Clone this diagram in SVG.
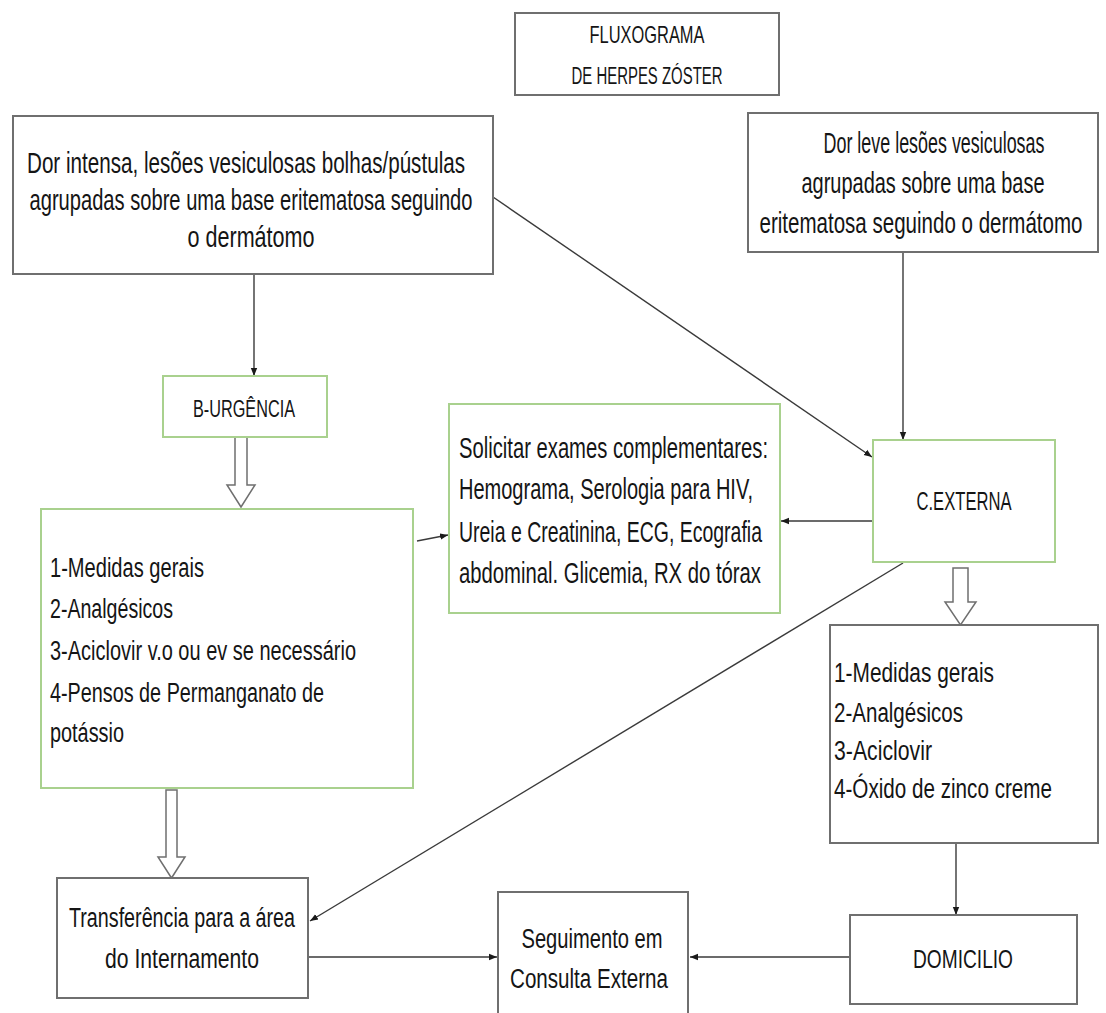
<svg xmlns="http://www.w3.org/2000/svg" width="1106" height="1013" viewBox="0 0 1106 1013">
<defs>
<style>
.box{fill:#fff;stroke:#6f6f6f;stroke-width:2}
.gbox{fill:#fff;stroke:#a9d18e;stroke-width:2}
.t{font-family:"Liberation Sans",Arial,sans-serif;fill:#151515}
.c{text-anchor:middle}
.b{font-size:20.5px}
.ln{fill:none;stroke:#3a3a3a;stroke-width:1.4;marker-end:url(#ah)}
.blk{fill:#fff;stroke:#6f6f6f;stroke-width:1.5}
</style>
<marker id="ah" viewBox="0 0 10 10" refX="10" refY="5" markerWidth="8" markerHeight="8" markerUnits="userSpaceOnUse" orient="auto">
<path d="M0,1 L10,5 L0,9 Z" fill="#1a1a1a"/>
</marker>
</defs>
<rect width="1106" height="1013" fill="#fff"/>

<g id="connectors">
<line class="ln" x1="254" y1="274" x2="254" y2="376"/>
<line class="ln" x1="493" y1="197" x2="872" y2="457"/>
<line class="ln" x1="903" y1="252" x2="903" y2="440"/>
<line class="ln" x1="873" y1="521" x2="781" y2="521"/>
<line class="ln" x1="417" y1="541" x2="448" y2="535"/>
<line class="ln" x1="903" y1="563" x2="310" y2="921"/>
<line class="ln" x1="308" y1="957" x2="497" y2="957"/>
<line class="ln" x1="956" y1="843" x2="956" y2="915"/>
<line class="ln" x1="850" y1="957" x2="690" y2="957"/>
<polygon class="blk" points="235,437 247,437 247,485 255,485 241,507 227,485 235,485"/>
<polygon class="blk" points="166,790 177,790 177,857 185,857 171.5,878 158,857 166,857"/>
<polygon class="blk" points="953,568 968,568 968,602 976,602 960.5,625 945,602 953,602"/>
</g>

<g id="title">
<rect class="box" x="515" y="13" width="264" height="82"/>
<text class="t c" transform="translate(647,43) scale(1,1.4)" font-size="16.5" textLength="115" lengthAdjust="spacingAndGlyphs">FLUXOGRAMA</text>
<text class="t c" transform="translate(647,84) scale(1,1.4)" font-size="16.5" textLength="151" lengthAdjust="spacingAndGlyphs">DE HERPES ZÓSTER</text>
</g>

<g id="dor-intensa">
<rect class="box" x="13" y="116" width="480" height="158"/>
<text class="t c b" transform="translate(246,173) scale(1,1.46)" textLength="438" lengthAdjust="spacingAndGlyphs">Dor intensa, lesões vesiculosas bolhas/pústulas</text>
<text class="t c b" transform="translate(251,210) scale(1,1.46)" textLength="443" lengthAdjust="spacingAndGlyphs">agrupadas sobre uma base eritematosa seguindo</text>
<text class="t c b" transform="translate(251,247) scale(1,1.46)" textLength="127" lengthAdjust="spacingAndGlyphs">o dermátomo</text>
</g>

<g id="dor-leve">
<rect class="box" x="748" y="113" width="350" height="139"/>
<text class="t c b" transform="translate(934,153) scale(1,1.46)" textLength="221" lengthAdjust="spacingAndGlyphs">Dor leve lesões vesiculosas</text>
<text class="t c b" transform="translate(923,193) scale(1,1.46)" textLength="243" lengthAdjust="spacingAndGlyphs">agrupadas sobre uma base</text>
<text class="t c b" transform="translate(921,233) scale(1,1.46)" textLength="323" lengthAdjust="spacingAndGlyphs">eritematosa seguindo o dermátomo</text>
</g>

<g id="b-urgencia">
<rect class="gbox" x="163" y="376" width="164" height="61"/>
<text class="t c" transform="translate(244,417) scale(1,1.45)" font-size="16.5" textLength="102" lengthAdjust="spacingAndGlyphs">B-URGÊNCIA</text>
</g>

<g id="medidas-urgencia">
<rect class="gbox" x="41" y="509" width="372" height="279"/>
<text class="t" transform="translate(50,577) scale(1,1.42)" font-size="20" textLength="154" lengthAdjust="spacingAndGlyphs">1-Medidas gerais</text>
<text class="t" transform="translate(50,618) scale(1,1.42)" font-size="20" textLength="123" lengthAdjust="spacingAndGlyphs">2-Analgésicos</text>
<text class="t" transform="translate(50,660) scale(1,1.42)" font-size="20" textLength="306" lengthAdjust="spacingAndGlyphs">3-Aciclovir v.o ou ev se necessário</text>
<text class="t" transform="translate(50,702) scale(1,1.42)" font-size="20" textLength="274" lengthAdjust="spacingAndGlyphs">4-Pensos de Permanganato de</text>
<text class="t" transform="translate(50,742) scale(1,1.42)" font-size="20" textLength="74" lengthAdjust="spacingAndGlyphs">potássio</text>
</g>

<g id="exames">
<rect class="gbox" x="449" y="404" width="331" height="209"/>
<text class="t" transform="translate(459,458) scale(1,1.45)" font-size="20" textLength="309" lengthAdjust="spacingAndGlyphs">Solicitar exames complementares:</text>
<text class="t" transform="translate(459,499) scale(1,1.45)" font-size="20" textLength="294" lengthAdjust="spacingAndGlyphs">Hemograma, Serologia para HIV,</text>
<text class="t" transform="translate(459,542) scale(1,1.45)" font-size="20" textLength="303" lengthAdjust="spacingAndGlyphs">Ureia e Creatinina, ECG, Ecografia</text>
<text class="t" transform="translate(459,583) scale(1,1.45)" font-size="20" textLength="302" lengthAdjust="spacingAndGlyphs">abdominal. Glicemia, RX do tórax</text>
</g>

<g id="c-externa">
<rect class="gbox" x="873" y="440" width="182" height="122"/>
<text class="t c" transform="translate(964,510) scale(1,1.5)" font-size="17" textLength="95" lengthAdjust="spacingAndGlyphs">C.EXTERNA</text>
</g>

<g id="medidas-externa">
<rect class="box" x="830" y="625" width="268" height="218"/>
<text class="t" transform="translate(834,682) scale(1,1.4)" font-size="20" textLength="160" lengthAdjust="spacingAndGlyphs">1-Medidas gerais</text>
<text class="t" transform="translate(834,722) scale(1,1.4)" font-size="20" textLength="129" lengthAdjust="spacingAndGlyphs">2-Analgésicos</text>
<text class="t" transform="translate(834,760) scale(1,1.4)" font-size="20" textLength="98" lengthAdjust="spacingAndGlyphs">3-Aciclovir</text>
<text class="t" transform="translate(834,798) scale(1,1.4)" font-size="20" textLength="218" lengthAdjust="spacingAndGlyphs">4-Óxido de zinco creme</text>
</g>

<g id="transferencia">
<rect class="box" x="57" y="878" width="251" height="120"/>
<text class="t c" transform="translate(182,927) scale(1,1.43)" font-size="19.6" textLength="226" lengthAdjust="spacingAndGlyphs">Transferência para a área</text>
<text class="t c" transform="translate(182,968) scale(1,1.43)" font-size="19.6" textLength="154" lengthAdjust="spacingAndGlyphs">do Internamento</text>
</g>

<g id="seguimento">
<rect class="box" x="498" y="892" width="190" height="130"/>
<text class="t c" transform="translate(592,948) scale(1,1.43)" font-size="19.6" textLength="141" lengthAdjust="spacingAndGlyphs">Seguimento em</text>
<text class="t c" transform="translate(589,988) scale(1,1.43)" font-size="19.6" textLength="158" lengthAdjust="spacingAndGlyphs">Consulta Externa</text>
</g>

<g id="domicilio">
<rect class="box" x="850" y="915" width="227" height="89"/>
<text class="t c" transform="translate(963,968) scale(1,1.38)" font-size="19" textLength="100" lengthAdjust="spacingAndGlyphs">DOMICILIO</text>
</g>
</svg>
